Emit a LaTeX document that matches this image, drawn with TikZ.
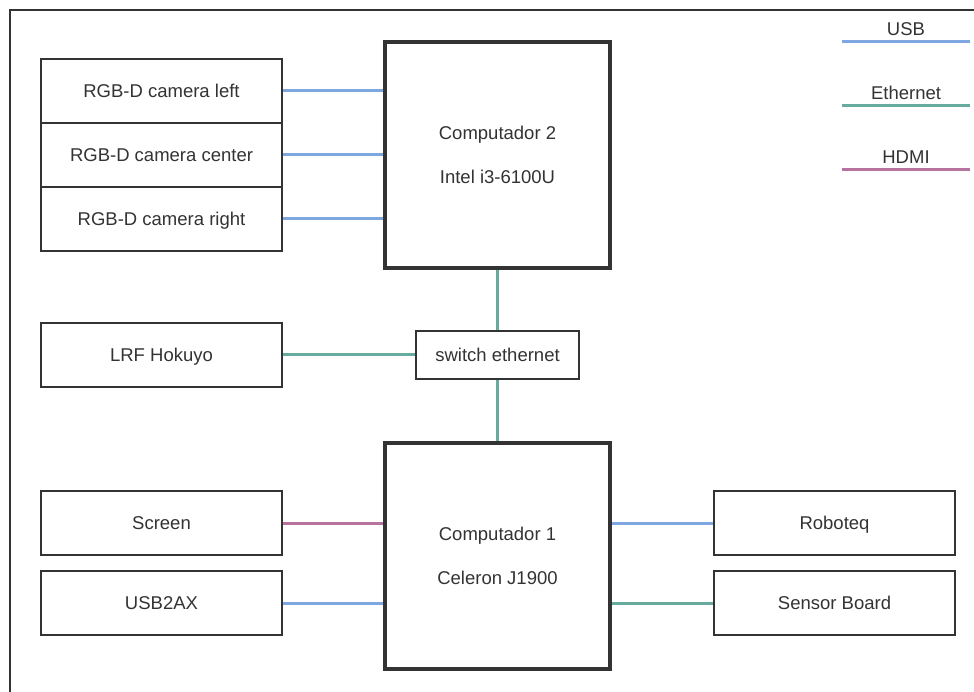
\documentclass[tikz,border=0pt]{standalone}
\usepackage{fontspec}
\setmainfont{Liberation Sans}
\definecolor{usbc}{HTML}{7EA6E0}
\definecolor{ethc}{HTML}{67AB9F}
\definecolor{hdmic}{HTML}{B5739D}
\definecolor{ink}{HTML}{333333}
\tikzset{
  capcenter/.style={text height=13.2pt, text depth=0pt},
  dev/.style={draw=ink, line width=1.5pt, fill=white, text=ink, minimum width=241pt,
    minimum height=64pt, inner sep=0pt, capcenter, font=\fontsize{18.5}{22}\selectfont},
  pcbox/.style={draw=ink, line width=4pt, fill=white, text=ink, minimum width=225pt,
    minimum height=226pt, inner sep=0pt, align=center, font=\fontsize{18.5}{44}\selectfont},
  swbox/.style={draw=ink, line width=1.5pt, fill=white, text=ink, minimum width=163pt,
    minimum height=48pt, inner sep=0pt, capcenter, font=\fontsize{18.5}{22}\selectfont},
  lbl/.style={text=ink, inner sep=0pt, capcenter, font=\fontsize{18.5}{22}\selectfont},
  usb/.style={draw=usbc, line width=3pt},
  eth/.style={draw=ethc, line width=3pt},
  hdmi/.style={draw=hdmic, line width=3pt},
}
\begin{document}
\begin{tikzpicture}[x=1pt, y=-1pt]
  \useasboundingbox (0,0) rectangle (974,692);
  % outer frame (top and left edges only)
  \draw[ink, line width=1.5pt] (10,692) -- (10,10) -- (974,10);

  % computers and the switch
  \node[pcbox] (pc2) at (497.5,155) {Computador 2\\Intel i3-6100U};
  \node[pcbox] (pc1) at (497.5,555.5) {Computador 1\\Celeron J1900};
  \node[swbox] (sw) at (497.5,355) {switch ethernet};

  % camera stack
  \node[dev] (camL) at (161.5,91) {RGB-D camera left};
  \node[dev] (camC) at (161.5,155) {RGB-D camera center};
  \node[dev] (camR) at (161.5,219) {RGB-D camera right};

  % peripherals
  \node[dev] (lrf) at (161.5,355) {LRF Hokuyo};
  \node[dev] (scr) at (161.5,523) {Screen};
  \node[dev] (usbax) at (161.5,603) {USB2AX};
  \node[dev] (robo) at (834.5,523) {Roboteq};
  \node[dev] (sens) at (834.5,603) {Sensor Board};

  % links
  \draw[usb] (camL.east) -- (pc2.west |- camL.east);
  \draw[usb] (camC.east) -- (pc2.west |- camC.east);
  \draw[usb] (camR.east) -- (pc2.west |- camR.east);
  \draw[eth] (pc2.south) -- (sw.north);
  \draw[eth] (sw.south) -- (pc1.north);
  \draw[eth] (lrf.east) -- (sw.west);
  \draw[hdmi] (scr.east) -- (pc1.west |- scr.east);
  \draw[usb] (usbax.east) -- (pc1.west |- usbax.east);
  \draw[usb] (robo.west) -- (pc1.east |- robo.west);
  \draw[eth] (sens.west) -- (pc1.east |- sens.west);

  % legend
  \coordinate (usbA) at (842,42);  \coordinate (usbB) at (970,42);
  \coordinate (ethA) at (842,106); \coordinate (ethB) at (970,106);
  \coordinate (hdA) at (842,170);  \coordinate (hdB) at (970,170);
  \draw[usb] (usbA) -- (usbB);
  \draw[eth] (ethA) -- (ethB);
  \draw[hdmi] (hdA) -- (hdB);
  \node[lbl] (lusb) at (906,29) {USB};
  \node[lbl] (leth) at (906,93) {Ethernet};
  \node[lbl] (lhd) at (906,157) {HDMI};
\end{tikzpicture}
\end{document}
